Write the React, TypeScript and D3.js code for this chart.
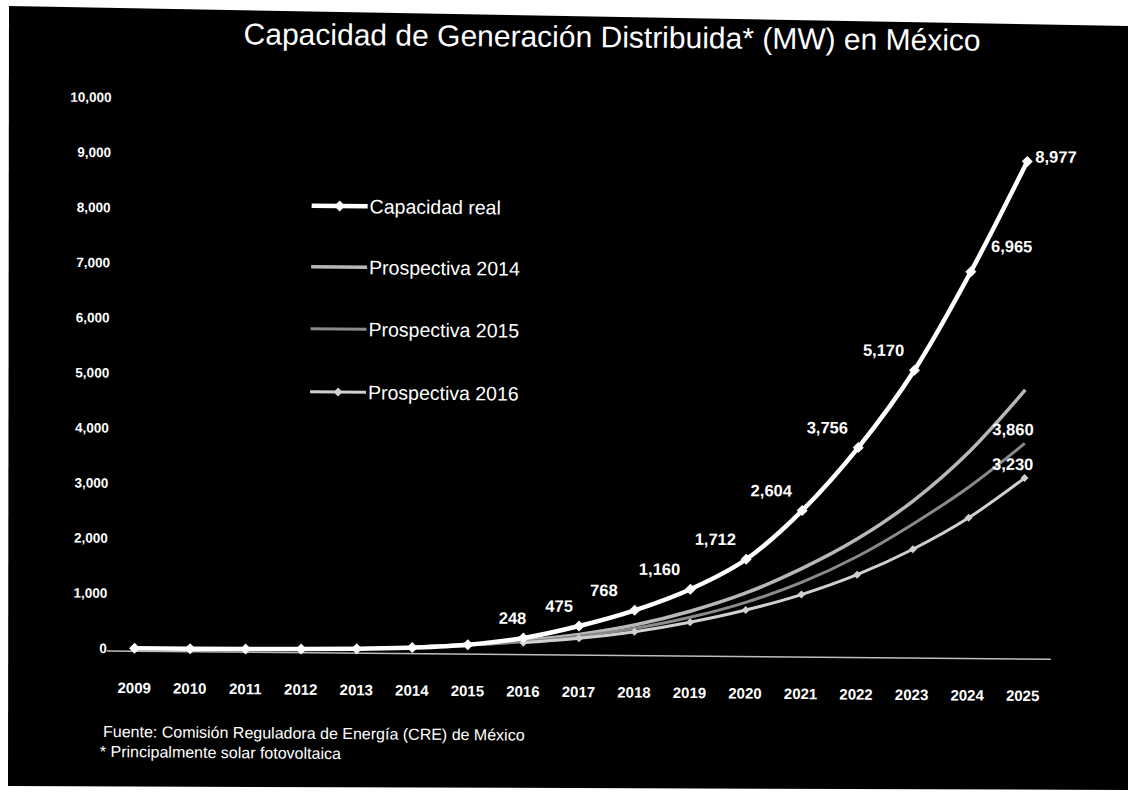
import React from "react";
import * as d3 from "d3";

const years = ["2009","2010","2011","2012","2013","2014","2015","2016","2017","2018","2019","2020","2021","2022","2023","2024","2025"];
const capacidadReal = [1, 2, 5, 12, 27, 56, 117, 248, 475, 768, 1160, 1712, 2604, 3756, 5170, 6965, 8977];
const prospectiva2014 = [null, null, null, null, null, 60, 120, 200, 320, 500, 760, 1100, 1550, 2100, 2800, 3700, 4830];
const prospectiva2015 = [null, null, null, null, null, null, 110, 180, 290, 440, 650, 930, 1300, 1780, 2380, 3060, 3860];
const prospectiva2016 = [null, null, null, null, null, null, null, 160, 250, 380, 560, 790, 1080, 1450, 1920, 2500, 3230];
const yTickValues = [0, 1000, 2000, 3000, 4000, 5000, 6000, 7000, 8000, 9000, 10000];
const seriesNames = ["Capacidad real", "Prospectiva 2014", "Prospectiva 2015", "Prospectiva 2016"];
const titleText = "Capacidad de Generación Distribuida* (MW) en México";
const sourceText = "Fuente: Comisión Reguladora de Energía (CRE) de México";
const noteText = "* Principalmente solar fotovoltaica";

const W = 1128, H = 796;
const FONT = "'Liberation Sans', Arial, sans-serif";

export default function App() {
  const x = d3.scalePoint<string>().domain(years).range([109, 1053]).padding(0.5);
  const y = d3.scaleLinear().domain([0, 10000]).range([652, 101]);
  const fmt = d3.format(",");

  type P = { yr: string; v: number | null };
  const toPts = (arr: (number | null)[]): P[] => arr.map((v, i) => ({ yr: years[i], v }));
  const line = d3
    .line<P>()
    .defined((d) => d.v != null)
    .x((d) => x(d.yr) as number)
    .y((d) => y(d.v as number))
    .curve(d3.curveMonotoneX);

  const styles = [
    { color: "#ffffff", width: 4.5, marker: true, data: capacidadReal },
    { color: "#b8b8b8", width: 3.5, marker: false, data: prospectiva2014 },
    { color: "#8a8a8a", width: 3, marker: false, data: prospectiva2015 },
    { color: "#d0d0d0", width: 3, marker: true, data: prospectiva2016 },
  ];

  const diamond = (cx: number, cy: number, r: number) =>
    `M${cx},${cy - r}L${cx + r},${cy}L${cx},${cy + r}L${cx - r},${cy}Z`;

  // label placement rule for the real series
  const realLabel = (i: number) => {
    const px = x(years[i]) as number;
    const py = y(capacidadReal[i]);
    if (i === years.length - 1) return { lx: px + 8, ly: py + 1, anchor: "start" };
    if (i === years.length - 2) return { lx: px + 20, ly: py - 20, anchor: "start" };
    const dx = i === 7 ? -11 : i === 8 ? -20 : -31;
    return { lx: px + dx, ly: py - 14, anchor: "middle" };
  };

  const last = years.length - 1;
  const legendY = [208, 269, 331, 394];

  return (
    <svg width={W} height={H} style={{ position: "absolute", left: 0, top: 0, background: "#fff" }}>
      <polygon points="9,6 1128,26 1128,790 8,786" fill="#000" />
      <g transform="rotate(0.5 564 398)">
        <text x={609} y={47} fill="#fff" fontFamily={FONT} fontSize={30} textAnchor="middle">
          {titleText}
        </text>

        {/* y axis labels */}
        {yTickValues.map((t) => (
          <text key={t} x={109} y={y(t) + 5} fill="#fff" fontFamily={FONT} fontSize={13.5} fontWeight="bold" textAnchor="end">
            {fmt(t)}
          </text>
        ))}

        {/* x axis */}
        <line x1={109} x2={1053} y1={y(0) + 3} y2={y(0) + 3} stroke="#bdbdbd" strokeWidth={1.5} />
        {years.map((yr) => (
          <text key={yr} x={x(yr) as number} y={697} fill="#fff" fontFamily={FONT} fontSize={15} fontWeight="bold" textAnchor="middle">
            {yr}
          </text>
        ))}

        {/* series (prospectivas first) */}
        {[1, 2, 3, 0].map((si) => {
          const s = styles[si];
          const pts = toPts(s.data);
          return (
            <g key={si}>
              <path d={line(pts) || ""} fill="none" stroke={s.color} strokeWidth={s.width} strokeLinejoin="round" />
              {s.marker &&
                pts
                  .filter((p) => p.v != null)
                  .map((p) => (
                    <path key={p.yr} d={diamond(x(p.yr) as number, y(p.v as number), si === 0 ? 5.5 : 4)} fill={s.color} />
                  ))}
            </g>
          );
        })}

        {/* data labels real */}
        {capacidadReal.map((v, i) => {
          if (i < 7) return null;
          const l = realLabel(i);
          return (
            <text key={i} x={l.lx} y={l.ly} fill="#fff" fontFamily={FONT} fontSize={16.5} fontWeight="bold" textAnchor={l.anchor as any}>
              {fmt(v)}
            </text>
          );
        })}
        {/* end labels prospectivas */}
        {[prospectiva2015, prospectiva2016].map((arr, k) => (
          <text key={k} x={(x(years[last]) as number) - 12} y={y(arr[last] as number) - 8} fill="#fff" fontFamily={FONT} fontSize={16.5} fontWeight="bold" textAnchor="middle">
            {fmt(arr[last] as number)}
          </text>
        ))}

        {/* legend */}
        {seriesNames.map((name, i) => {
          const s = styles[i];
          const ly = legendY[i];
          return (
            <g key={name}>
              <line x1={310} x2={366} y1={ly} y2={ly} stroke={s.color} strokeWidth={s.width} />
              {s.marker && <path d={diamond(338, ly, i === 0 ? 5.5 : 4.5)} fill={s.color} />}
              <text x={368} y={ly + 7} fill="#fff" fontFamily={FONT} fontSize={19.5}>
                {name}
              </text>
            </g>
          );
        })}

        {/* footnotes */}
        <text x={106} y={741} fill="#fff" fontFamily={FONT} fontSize={16}>
          {sourceText}
        </text>
        <text x={103} y={761} fill="#fff" fontFamily={FONT} fontSize={16}>
          {noteText}
        </text>
      </g>
    </svg>
  );
}
